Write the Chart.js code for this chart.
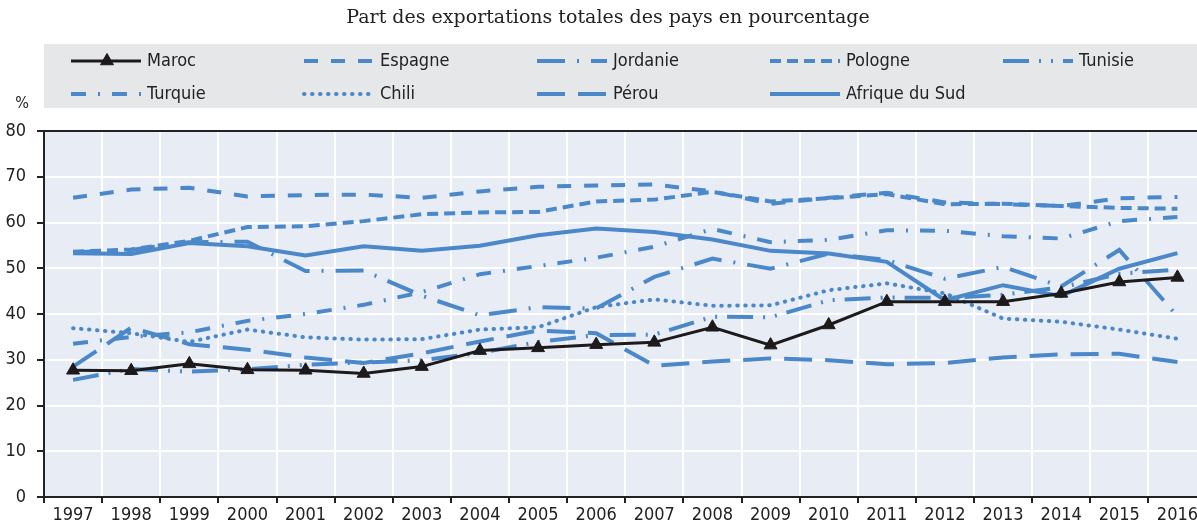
<!DOCTYPE html>
<html>
<head>
<meta charset="utf-8">
<script src="https://cdn.jsdelivr.net/npm/chart.js@4.4.1/dist/chart.umd.min.js"></script>
<style>
  html, body { margin: 0; padding: 0; background: #fff; overflow: hidden; }
  #zone { width: 1215px; height: 522px; }
</style>
</head>
<body>
<div id="zone"><canvas id="grafico" width="1215" height="522"></canvas></div>
<script>
// Donnees (% des exportations totales)
var annees = ['1997','1998','1999','2000','2001','2002','2003','2004','2005','2006',
              '2007','2008','2009','2010','2011','2012','2013','2014','2015','2016'];
var maroc      = [27.7, 27.6, 29.1, 27.8, 27.7, 27.0, 28.5, 32.0, 32.6, 33.3, 33.8, 37.1, 33.2, 37.6, 42.7, 42.7, 42.7, 44.5, 47.0, 48.0];
var espagne    = [65.4, 67.2, 67.6, 65.7, 66.0, 66.1, 65.4, 66.8, 67.8, 68.1, 68.3, 66.8, 64.1, 65.4, 66.5, 64.4, 64.0, 63.6, 65.3, 65.6];
var jordanie   = [53.5, 54.0, 55.7, 55.8, 49.4, 49.5, 44.0, 39.7, 41.5, 41.2, 48.1, 52.1, 49.9, 53.2, 51.8, 47.7, 50.3, 46.0, 54.0, 39.5];
var pologne    = [53.6, 54.1, 56.0, 59.0, 59.2, 60.3, 61.8, 62.2, 62.3, 64.6, 65.0, 66.7, 64.6, 65.3, 66.2, 64.0, 64.1, 63.6, 63.2, 63.0];
var tunisie    = [25.6, 28.0, 27.4, 27.9, 28.9, 29.4, 29.9, 31.5, 33.9, 35.4, 35.5, 39.4, 39.3, 43.0, 43.6, 43.5, 44.2, 45.8, 48.8, 49.7];
var turquie    = [33.5, 35.0, 36.0, 38.5, 40.0, 42.0, 44.8, 48.7, 50.5, 52.3, 54.7, 58.6, 55.7, 56.2, 58.3, 58.2, 57.0, 56.5, 60.3, 61.2];
var chili      = [36.9, 35.8, 33.9, 36.6, 34.9, 34.4, 34.5, 36.6, 37.1, 41.5, 43.2, 41.8, 41.9, 45.2, 46.7, 44.5, 39.0, 38.3, 36.6, 34.6];
var perou      = [28.5, 37.0, 33.4, 32.2, 30.5, 29.3, 31.4, 34.0, 36.4, 35.8, 28.7, 29.6, 30.3, 29.9, 29.0, 29.3, 30.5, 31.2, 31.3, 29.5];
var afriqueSud = [53.3, 53.1, 55.5, 54.8, 52.8, 54.8, 53.8, 54.9, 57.2, 58.7, 57.9, 56.3, 53.8, 53.2, 51.4, 43.0, 46.3, 43.9, 49.9, 53.3];

var sousTitre = 'Part des exportations totales des pays en pourcentage';
var unite = '%';

var bleu = '#4a88ca';
var noir = '#1c1a1b';
var fondGraphique = '#e8ecf5';
var fondLegende = '#e6e7e8';
var policeEtroite = "'Liberation Sans Narrow', 'DejaVu Sans Condensed', 'Arial Narrow', sans-serif";

function serie(label, data, dash, cap) {
    return {
        label: label,
        data: data,
        borderColor: bleu,
        backgroundColor: bleu,
        borderWidth: 4,
        borderDash: dash,
        borderCapStyle: cap || 'butt',
        pointRadius: 0,
        pointHoverRadius: 0,
        fill: false,
        tension: 0
    };
}

var datasets = [
    {
        label: 'Maroc',
        data: maroc,
        borderColor: noir,
        backgroundColor: noir,
        borderWidth: 3,
        borderDash: [],
        pointStyle: 'triangle',
        pointRadius: 7.5,
        pointBackgroundColor: noir,
        pointBorderColor: noir,
        pointBorderWidth: 1,
        fill: false,
        tension: 0
    },
    serie('Espagne', espagne, [14, 13]),
    serie('Jordanie', jordanie, [28, 12, 2, 12]),
    serie('Pologne', pologne, [11, 6]),
    serie('Tunisie', tunisie, [26, 10, 2, 10, 2, 10]),
    serie('Turquie', turquie, [15, 12, 2, 12]),
    serie('Chili', chili, [0.5, 7.5], 'round'),
    serie('Pérou', perou, [28, 13]),
    serie('Afrique du Sud', afriqueSud, [])
];

// fond de la zone de trace
var fondPlugin = {
    id: 'fond',
    beforeDraw: function(chart) {
        var ctx = chart.ctx, a = chart.chartArea;
        ctx.save();
        ctx.fillStyle = '#fff';
        ctx.fillRect(0, 0, chart.width, chart.height);
        ctx.fillStyle = fondGraphique;
        ctx.fillRect(a.left, a.top, a.right - a.left, a.bottom - a.top);
        ctx.restore();
    }
};

// sous-titre, legende en grille, unite
var legendePlugin = {
    id: 'legendeGrille',
    afterDraw: function(chart) {
        var ctx = chart.ctx, a = chart.chartArea;
        ctx.save();

        ctx.fillStyle = '#222';
        ctx.font = "19px 'DejaVu Serif', serif";
        ctx.textAlign = 'center';
        ctx.textBaseline = 'middle';
        ctx.fillText(sousTitre, 608, 18);

        ctx.fillStyle = fondLegende;
        ctx.fillRect(a.left, 44, chart.width - a.left, 64);

        chart.data.datasets.forEach(function(ds, i) {
            var col = i % 5, lig = Math.floor(i / 5);
            var x0 = 71 + 233 * col, y = 61 + 33 * lig;
            ctx.save();
            ctx.strokeStyle = ds.borderColor;
            ctx.lineWidth = ds.borderWidth;
            ctx.lineCap = ds.borderCapStyle || 'butt';
            ctx.setLineDash(ds.borderDash || []);
            ctx.beginPath();
            ctx.moveTo(x0, y);
            ctx.lineTo(x0 + 70, y);
            ctx.stroke();
            ctx.restore();
            if (ds.pointStyle === 'triangle') {
                ctx.fillStyle = ds.pointBackgroundColor;
                ctx.strokeStyle = ds.pointBorderColor;
                ctx.lineWidth = 1;
                Chart.helpers.drawPoint(ctx, {
                    pointStyle: 'triangle', radius: ds.pointRadius, borderWidth: 1
                }, x0 + 36, y);
            }
            ctx.fillStyle = '#222';
            ctx.font = '18px ' + policeEtroite;
            ctx.textAlign = 'left';
            ctx.textBaseline = 'middle';
            ctx.fillText(ds.label, x0 + 76, y);
        });

        ctx.fillStyle = '#222';
        ctx.font = '16px ' + policeEtroite;
        ctx.textAlign = 'center';
        ctx.fillText(unite, 22, 104);
        ctx.restore();
    }
};

var graphique = new Chart(document.getElementById('grafico'), {
    type: 'line',
    data: {
        labels: annees,
        datasets: datasets
    },
    options: {
        responsive: false,
        animation: false,
        devicePixelRatio: 1,
        layout: { padding: { top: 131, left: 0, right: 8, bottom: 0 } },
        plugins: {
            legend: { display: false },
            title: { display: false },
            tooltip: { enabled: false }
        },
        scales: {
            x: {
                offset: true,
                afterFit: function(scale) { scale.height = 25; },
                grid: {
                    offset: true,
                    color: '#ffffff',
                    lineWidth: 2,
                    tickColor: '#222',
                    tickLength: 6
                },
                border: { color: '#222', width: 2 },
                ticks: {
                    color: '#222',
                    padding: 2,
                    maxRotation: 0,
                    autoSkip: false,
                    font: { family: policeEtroite, size: 18 }
                }
            },
            y: {
                min: 0,
                max: 80,
                afterFit: function(scale) { scale.width = 44; },
                grid: {
                    color: function(c) { return c.tick && c.tick.value === 80 ? '#222' : '#ffffff'; },
                    lineWidth: 2,
                    tickColor: '#222',
                    tickLength: 7
                },
                border: { color: '#222', width: 2 },
                ticks: {
                    stepSize: 10,
                    color: '#222',
                    padding: 11,
                    font: { family: policeEtroite, size: 18 }
                }
            }
        }
    },
    plugins: [fondPlugin, legendePlugin]
});
</script>
</body>
</html>
